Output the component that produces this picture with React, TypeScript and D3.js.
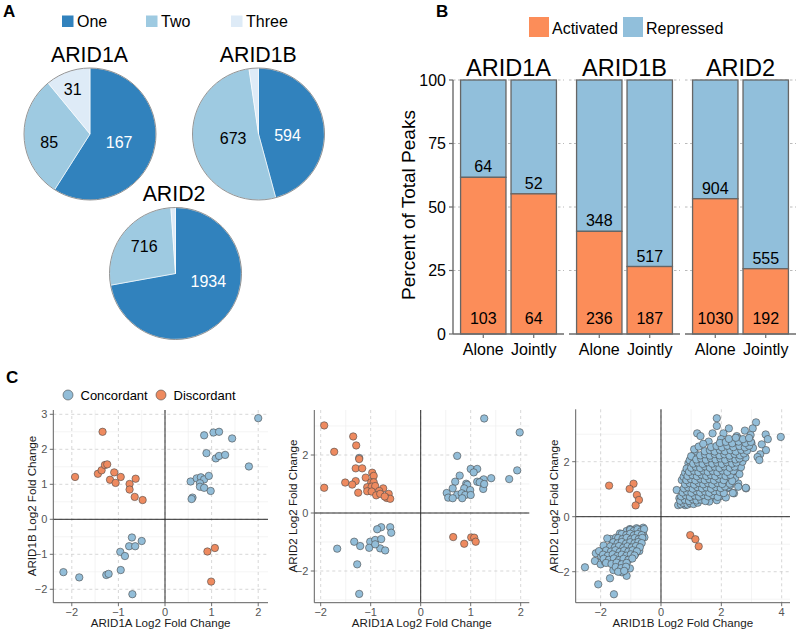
import React from 'react';
import * as d3 from 'd3';

const FONT = '"Liberation Sans", Arial, Helvetica, sans-serif';

// ---------- Panel A data ----------
const pieGroups = ['ARID1A', 'ARID1B', 'ARID2'];
const pieCategories = ['One', 'Two', 'Three'];
const pieARID1A = [167, 85, 31];
const pieARID1B = [594, 673, 30];
const pieARID2 = [1934, 716, 30];
const pieValues = [pieARID1A, pieARID1B, pieARID2];
const pieColors = ['#3182BD', '#9ECAE1', '#DEEBF7'];

// ---------- Panel B data ----------
const barFacets = ['ARID1A', 'ARID1B', 'ARID2'];
const barConditions = ['Alone', 'Jointly'];
const activatedCounts = [[103, 64], [236, 187], [1030, 192]];
const repressedCounts = [[64, 52], [348, 517], [904, 555]];
const barTicks = [0, 25, 50, 75, 100];
const activatedColor = '#FC8D59';
const repressedColor = '#91BFDB';

// ---------- Panel C data ----------
const s1Concordant = [
  [2.0, 2.89], [0.84, 2.4], [1.04, 2.48], [1.16, 2.5], [1.44, 2.31], [0.89, 1.89], [1.09, 1.74], [1.16, 1.81],
  [1.29, 1.84], [1.8, 1.51], [0.55, 1.08], [0.68, 1.17], [0.77, 1.2], [0.84, 1.14], [0.94, 1.24], [0.75, 1.03],
  [0.75, 0.93], [0.84, 0.9], [0.98, 0.81], [0.59, 0.62], [0.57, 0.58],
  [-0.71, -0.52], [-0.5, -0.62], [-0.77, -0.77], [-0.64, -0.77], [-0.96, -0.93], [-0.86, -1.05], [-0.95, -1.45],
  [-2.18, -1.51], [-1.84, -1.66], [-1.26, -1.59], [-1.21, -1.56], [-0.7, -2.14],
];
const s1Discordant = [
  [-1.34, 2.5], [-1.93, 1.21], [-1.44, 1.3], [-1.36, 1.4], [-1.29, 1.55], [-1.24, 1.57], [-1.09, 1.34],
  [-1.18, 1.13], [-1.06, 1.04], [-0.95, 1.21], [-0.63, 1.16], [-0.76, 1.01], [-0.76, 0.85], [-0.65, 0.64],
  [-0.48, 0.55], [1.07, -0.82], [0.91, -0.92], [0.99, -1.78],
];
const s2Concordant = [
  [1.27, 3.26], [1.98, 2.78], [0.73, 1.97], [1.93, 1.47], [1.77, 1.17], [1.41, 1.2], [0.78, 1.29], [1.0, 1.52],
  [1.13, 1.52], [1.06, 1.4], [0.69, 1.08], [0.91, 1.01], [0.93, 0.97], [1.13, 1.08], [1.23, 1.11], [1.26, 1.16],
  [1.18, 1.06], [0.64, 0.85], [0.87, 0.85], [0.99, 0.79], [1.25, 0.83], [1.27, 1.0], [0.52, 0.69], [0.73, 0.63],
  [0.82, 0.68], [0.89, 0.62], [0.55, 0.53], [0.64, 0.51], [0.83, 0.51], [1.0, 0.62], [-1.23, 1.9],
  [-0.61, -0.49], [-0.59, -0.68], [-0.79, -0.49], [-0.87, -0.56], [-1.01, -0.99], [-0.91, -0.93], [-0.79, -0.9],
  [-1.33, -0.99], [-1.21, -1.14], [-1.03, -1.2], [-0.81, -1.22], [-0.71, -1.29], [-1.67, -1.23], [-1.27, -1.77],
  [-1.23, -2.79], [-0.91, -1.08],
];
const s2Discordant = [
  [-1.93, 3.02], [-1.35, 2.64], [-1.29, 2.33], [-1.73, 2.11], [-1.23, 1.86], [-1.3, 1.54], [-1.17, 1.54],
  [-0.97, 1.39], [-0.94, 1.28], [-1.1, 1.22], [-1.51, 1.05], [-1.3, 1.1], [-1.37, 0.98], [-0.99, 1.06],
  [-0.94, 1.06], [-1.07, 0.89], [-0.98, 0.91], [-0.91, 0.93], [-0.75, 0.85], [-1.07, 0.75], [-0.98, 0.74],
  [-0.83, 0.76], [-1.93, 0.87], [-1.25, 0.7], [-0.89, 0.61], [-0.81, 0.66], [-0.64, 0.66], [-0.68, 0.52],
  [-0.61, 0.49], [-0.72, 0.57], [0.65, -0.83], [0.87, -1.06], [1.01, -0.84], [1.07, -0.85], [1.1, -0.99],
];
const s3Concordant = [
  // upper-right cluster, sparse edge
  [1.85, 3.58], [1.85, 3.3], [2.25, 3.21], [3.15, 3.43], [3.04, 3.21], [2.78, 3.13], [1.2, 3.03], [1.31, 2.93],
  [1.71, 3.03], [2.07, 3.03], [2.51, 2.93], [2.56, 2.85], [2.97, 2.97], [3.47, 2.99], [3.97, 2.9], [3.54, 2.82],
  [3.34, 2.63], [2.9, 2.79], [2.71, 2.7], [3.48, 2.42], [3.29, 2.27], [3.2, 2.17], [3.26, 2.06], [3.0, 2.67],
  [1.58, 2.73], [1.99, 2.82], [2.07, 2.67], [2.23, 2.55], [2.51, 2.51], [2.38, 2.39], [2.65, 2.24], [1.13, 2.3],
  [1.13, 2.12], [0.91, 1.94], [0.96, 1.82], [2.52, 1.64], [2.24, 1.37], [2.56, 1.21], [2.82, 1.03], [2.42, 0.85],
  [2.18, 1.03], [1.96, 0.75], [0.69, 1.33], [0.52, 0.97], [0.61, 0.67], [0.57, 0.42], [0.8, 0.42], [1.02, 0.55],
  [2.38, 0.86], [2.81, 1.05], [2.56, 1.09], [2.23, 1.07], [1.95, 0.75], [1.68, 0.7],
  [2.3, 1.15], [2.45, 1.4], [2.6, 1.55], [2.65, 1.8], [2.7, 2.0], [2.8, 2.15], [0.75, 1.45], [0.8, 1.6],
  [0.85, 1.75], [0.95, 2.05], [1.0, 2.2], [1.1, 2.45], [1.25, 2.55], [1.4, 2.65], [2.85, 2.55], [3.05, 2.5],
  [1.6, 0.55], [1.85, 0.6], [2.15, 0.7],
  // upper-right cluster, dense core
  [0.66, 0.45], [0.74, 0.5], [0.88, 0.44], [0.97, 0.49], [1.08, 0.46], [1.22, 0.51],
  [0.64, 0.58], [0.79, 0.62], [0.93, 0.57], [1.06, 0.63], [1.18, 0.59], [1.33, 0.62], [1.47, 0.57],
  [0.67, 0.74], [0.82, 0.78], [0.96, 0.72], [1.12, 0.77], [1.26, 0.73], [1.4, 0.79], [1.56, 0.74], [1.72, 0.79], [1.88, 0.72],
  [0.72, 0.88], [0.86, 0.92], [1.01, 0.87], [1.17, 0.93], [1.3, 0.88], [1.46, 0.92], [1.6, 0.87], [1.77, 0.93], [1.95, 0.9], [2.08, 0.86],
  [0.76, 1.03], [0.9, 1.07], [1.05, 1.02], [1.2, 1.08], [1.36, 1.03], [1.5, 1.07], [1.66, 1.02], [1.82, 1.08], [1.98, 1.04], [2.12, 1.1],
  [0.8, 1.18], [0.95, 1.22], [1.1, 1.17], [1.25, 1.23], [1.4, 1.18], [1.56, 1.22], [1.7, 1.17], [1.87, 1.23], [2.03, 1.19], [2.28, 1.2],
  [0.84, 1.33], [0.99, 1.37], [1.14, 1.32], [1.3, 1.38], [1.45, 1.33], [1.6, 1.37], [1.76, 1.32], [1.92, 1.38], [2.08, 1.33], [2.36, 1.3],
  [0.88, 1.48], [1.04, 1.52], [1.19, 1.47], [1.34, 1.53], [1.5, 1.48], [1.65, 1.52], [1.8, 1.47], [1.97, 1.53], [2.14, 1.48], [2.3, 1.52],
  [0.93, 1.63], [1.09, 1.67], [1.24, 1.62], [1.4, 1.68], [1.55, 1.63], [1.71, 1.67], [1.87, 1.62], [2.03, 1.68], [2.2, 1.63], [2.4, 1.67],
  [1.0, 1.78], [1.15, 1.82], [1.3, 1.77], [1.46, 1.83], [1.62, 1.78], [1.78, 1.82], [1.94, 1.77], [2.1, 1.83], [2.28, 1.78], [2.44, 1.82],
  [1.07, 1.93], [1.22, 1.97], [1.38, 1.92], [1.54, 1.98], [1.7, 1.93], [1.86, 1.97], [2.02, 1.92], [2.18, 1.98], [2.36, 1.93], [2.5, 1.97],
  [1.17, 2.08], [1.33, 2.12], [1.49, 2.07], [1.65, 2.13], [1.81, 2.08], [1.97, 2.12], [2.13, 2.07], [2.3, 2.13], [2.47, 2.08], [2.6, 2.12],
  [1.3, 2.23], [1.46, 2.27], [1.62, 2.22], [1.78, 2.28], [1.94, 2.23], [2.1, 2.27], [2.27, 2.22], [2.44, 2.28], [2.62, 2.23], [2.75, 2.3],
  [1.45, 2.38], [1.62, 2.42], [1.78, 2.37], [1.95, 2.43], [2.12, 2.38], [2.3, 2.42], [2.48, 2.37], [2.66, 2.43], [2.85, 2.4],
  [1.66, 2.53], [1.84, 2.57], [2.02, 2.52], [2.2, 2.58], [2.4, 2.53], [2.6, 2.57], [2.78, 2.52], [2.92, 2.58],
  [1.95, 2.68], [2.15, 2.72], [2.36, 2.67], [2.57, 2.73], [2.8, 2.68], [2.98, 2.72],
  [2.25, 2.83], [2.48, 2.87], [2.72, 2.82], [2.92, 2.86],
  // lower-left cluster, sparse edge
  [-2.52, -1.84], [-2.19, -1.61], [-2.08, -2.46], [-1.56, -2.82], [-1.69, -2.24], [-1.14, -2.15], [-1.3, -2.02],
  [-1.58, -1.94], [-1.03, -1.88], [-1.97, -1.45], [-2.16, -1.33], [-1.67, -0.81], [-1.49, -0.76], [-0.59, -0.4],
  [-0.7, -0.48], [-1.14, -0.52],
  [-1.78, -0.79], [-1.73, -1.13], [-1.55, -1.03], [-1.36, -0.61], [-1.03, -0.45], [-0.81, -0.42], [-1.98, -1.45],
  [-2.0, -1.73], [-1.86, -1.64], [-2.05, -1.25], [-1.9, -1.05], [-0.72, -1.25], [-0.85, -1.35], [-0.6, -0.6],
  [-0.55, -0.75],
  // lower-left cluster, dense core
  [-1.02, -0.48], [-0.9, -0.52], [-0.78, -0.46], [-0.66, -0.53], [-0.56, -0.45],
  [-1.3, -0.63], [-1.15, -0.67], [-1.02, -0.62], [-0.9, -0.68], [-0.77, -0.63], [-0.64, -0.67],
  [-1.42, -0.78], [-1.28, -0.82], [-1.14, -0.77], [-1.0, -0.83], [-0.87, -0.78], [-0.74, -0.82], [-0.62, -0.77],
  [-1.58, -0.93], [-1.44, -0.97], [-1.3, -0.92], [-1.16, -0.98], [-1.02, -0.93], [-0.88, -0.97], [-0.75, -0.92], [-0.64, -0.96],
  [-1.68, -1.08], [-1.53, -1.12], [-1.39, -1.07], [-1.25, -1.13], [-1.11, -1.08], [-0.97, -1.12], [-0.83, -1.07], [-0.7, -1.11],
  [-1.82, -1.23], [-1.66, -1.27], [-1.51, -1.22], [-1.37, -1.28], [-1.22, -1.23], [-1.08, -1.27], [-0.94, -1.22], [-0.8, -1.26],
  [-1.92, -1.38], [-1.76, -1.42], [-1.6, -1.37], [-1.45, -1.43], [-1.3, -1.38], [-1.15, -1.42], [-1.0, -1.37], [-0.88, -1.41],
  [-1.9, -1.53], [-1.73, -1.57], [-1.56, -1.52], [-1.4, -1.58], [-1.24, -1.53], [-1.08, -1.57], [-0.95, -1.52],
  [-1.82, -1.68], [-1.64, -1.72], [-1.47, -1.67], [-1.3, -1.73], [-1.14, -1.68],
  [-1.5, -1.83], [-1.32, -1.87], [-1.16, -1.82],
  [-1.42, -2.0], [-1.22, -1.97],
];
const s3Discordant = [
  [-1.72, 1.13], [-0.91, 1.2], [-1.04, 1.01], [-0.8, 0.79], [-0.73, 0.61], [-0.84, 0.41],
  [0.97, -0.67], [1.14, -0.82], [1.25, -1.08],
];
const scatterLegend = ['Concordant', 'Discordant'];
const concordantColor = '#92BDD8';
const discordantColor = '#EE8A5F';

// ---------- layout ----------
const PIE_R = 66;
const pieLayout = [
  { cx: 90, cy: 134, tx: 89.5, ty: 61.5, labels: [[106.6, 0.46], [259.2, 0.63], [339, 0.73]] },
  { cx: 258.5, cy: 134, tx: 258.3, ty: 61.5, labels: [[92, 0.44], [260.3, 0.39], null] },
  { cx: 175.5, cy: 273.5, tx: 174, ty: 201, labels: [[102.7, 0.51], [311.1, 0.63], null] },
];

function PanelA() {
  const pie = d3.pie<number>().sort(null).value((d) => d);
  const arc = d3.arc<d3.PieArcDatum<number>>().innerRadius(0).outerRadius(PIE_R);
  const legendX = [62, 146, 231];
  return (
    <g>
      <text x={3} y={17} fontSize={17} fontWeight="bold">A</text>
      {pieCategories.map((c, i) => (
        <g key={c}>
          <rect x={legendX[i]} y={15.5} width={11.5} height={11.5} fill={pieColors[i]} />
          <text x={legendX[i] + 15} y={27} fontSize={16}>{c}</text>
        </g>
      ))}
      {pieGroups.map((g, gi) => {
        const L = pieLayout[gi];
        const vals = pieValues[gi];
        const arcs = pie(vals);
        return (
          <g key={g}>
            <text x={L.tx} y={L.ty} fontSize={21.3} textAnchor="middle">{g}</text>
            <g transform={`translate(${L.cx},${L.cy})`}>
              {arcs.map((a, i) => (
                <path key={i} d={arc(a) || ''} fill={pieColors[i]} stroke="#ffffff" strokeWidth={0.6} />
              ))}
              <circle r={PIE_R} fill="none" stroke="#8a8a8a" strokeWidth={0.9} />
              {arcs.map((a, i) => {
                const lp = L.labels[i];
                if (!lp) return null;
                const th = (lp[0] * Math.PI) / 180;
                const x = Math.sin(th) * PIE_R * lp[1];
                const y = -Math.cos(th) * PIE_R * lp[1];
                return (
                  <text key={'l' + i} x={x} y={y} dy="0.36em" textAnchor="middle" fontSize={16}
                    fill={i === 0 ? '#ffffff' : '#000000'}>{vals[i]}</text>
                );
              })}
            </g>
          </g>
        );
      })}
    </g>
  );
}

function PanelB() {
  const facet = d3.scaleBand<string>().domain(barFacets).range([453, 796]).paddingInner(5 / 116);
  const bw = facet.bandwidth();
  const cond = d3.scaleBand<string>().domain(barConditions).range([0, bw]).paddingInner(0.1).paddingOuter(0.15);
  const y = d3.scaleLinear().domain([0, 100]).range([334, 80]);
  const axisColor = '#6b6b6b';
  return (
    <g>
      <text x={436} y={17} fontSize={17} fontWeight="bold">B</text>
      <rect x={529} y={17} width={20} height={20} fill={activatedColor} />
      <text x={552} y={34} fontSize={16}>Activated</text>
      <rect x={623} y={17} width={20} height={20} fill={repressedColor} />
      <text x={646} y={34} fontSize={16}>Repressed</text>
      <text transform={`translate(415,205) rotate(-90)`} textAnchor="middle" fontSize={19}>Percent of Total Peaks</text>
      {barFacets.map((f, fi) => {
        const fx = facet(f) as number;
        return (
          <g key={f}>
            <text x={fx + bw / 2} y={76} textAnchor="middle" fontSize={23.5}>{f}</text>
            {barTicks.slice(1).map((t) => (
              <line key={t} x1={fx} x2={fx + bw} y1={y(t)} y2={y(t)} stroke="#a8a8a8" strokeWidth={0.8} strokeDasharray="2.5,2.5" />
            ))}
            {barConditions.map((c, ci) => {
              const a = activatedCounts[fi][ci];
              const r = repressedCounts[fi][ci];
              const pct = (a / (a + r)) * 100;
              const bx = fx + (cond(c) as number);
              const bwid = cond.bandwidth();
              return (
                <g key={c}>
                  <rect x={bx} y={y(100)} width={bwid} height={y(pct) - y(100)} fill={repressedColor} stroke="#666" strokeWidth={1.3} />
                  <rect x={bx} y={y(pct)} width={bwid} height={y(0) - y(pct)} fill={activatedColor} stroke="#666" strokeWidth={1.3} />
                  <text x={bx + bwid / 2} y={y(pct) - 5} textAnchor="middle" fontSize={16}>{r}</text>
                  <text x={bx + bwid / 2} y={y(0) - 10} textAnchor="middle" fontSize={16}>{a}</text>
                  <line x1={bx + bwid / 2} x2={bx + bwid / 2} y1={y(0)} y2={y(0) + 4} stroke={axisColor} strokeWidth={1.2} />
                  <text x={bx + bwid / 2} y={355} textAnchor="middle" fontSize={16}>{c}</text>
                </g>
              );
            })}
            <line x1={fx} x2={fx + bw} y1={y(0)} y2={y(0)} stroke={axisColor} strokeWidth={1.4} />
          </g>
        );
      })}
      <line x1={453} x2={453} y1={y(100)} y2={y(0)} stroke={axisColor} strokeWidth={1.4} />
      {barTicks.map((t) => (
        <g key={t}>
          <line x1={449} x2={453} y1={y(t)} y2={y(t)} stroke={axisColor} strokeWidth={1.2} />
          <text x={446} y={y(t)} dy="0.36em" textAnchor="end" fontSize={16}>{t}</text>
        </g>
      ))}
    </g>
  );
}

type ScatterCfg = {
  x: d3.ScaleLinear<number, number>;
  y: d3.ScaleLinear<number, number>;
  xTicks: number[]; yTicks: number[]; xMinor: number[]; yMinor: number[];
  xLabel: string; yLabel: string; yLabelX: number;
  conc: number[][]; disc: number[][];
};

const scatterPanels: ScatterCfg[] = [
  {
    x: d3.scaleLinear().domain([-2.397, 2.21]).range([53.3, 268]),
    y: d3.scaleLinear().domain([-2.383, 3.123]).range([602.7, 410]),
    xTicks: [-2, -1, 0, 1, 2], yTicks: [-2, -1, 0, 1, 2, 3],
    xMinor: [-1.5, -0.5, 0.5, 1.5], yMinor: [-1.5, -0.5, 0.5, 1.5, 2.5],
    xLabel: 'ARID1A Log2 Fold Change', yLabel: 'ARID1B Log2 Fold Change', yLabelX: 35.5,
    conc: s1Concordant, disc: s1Discordant,
  },
  {
    x: d3.scaleLinear().domain([-2.128, 2.172]).range([314.3, 529.3]),
    y: d3.scaleLinear().domain([-3.093, 3.552]).range([602.7, 410]),
    xTicks: [-2, -1, 0, 1, 2], yTicks: [-2, 0, 2],
    xMinor: [-1.5, -0.5, 0.5, 1.5], yMinor: [-3, -1, 1, 3],
    xLabel: 'ARID1A Log2 Fold Change', yLabel: 'ARID2 Log2 Fold Change', yLabelX: 296.5,
    conc: s2Concordant, disc: s2Discordant,
  },
  {
    x: d3.scaleLinear().domain([-2.827, 4.276]).range([575.7, 790]),
    y: d3.scaleLinear().domain([-3.127, 3.905]).range([602.7, 409.3]),
    xTicks: [-2, 0, 2, 4], yTicks: [-2, 0, 2],
    xMinor: [-1, 1, 3], yMinor: [-3, -1, 1, 3],
    xLabel: 'ARID1B Log2 Fold Change', yLabel: 'ARID2 Log2 Fold Change', yLabelX: 558,
    conc: s3Concordant, disc: s3Discordant,
  },
];

function Scatter({ cfg }: { cfg: ScatterCfg }) {
  const { x, y } = cfg;
  const [x0, x1] = x.range();
  const [y0, y1] = y.range(); // y0 bottom, y1 top
  const fmt = d3.format('d');
  const axisColor = '#5f5f5f';
  const pointStroke = '#4a4a4a';
  return (
    <g>
      {cfg.xMinor.map((v) => (
        <line key={'xm' + v} x1={x(v)} x2={x(v)} y1={y1} y2={y0} stroke="#efefef" strokeWidth={0.7} />
      ))}
      {cfg.yMinor.map((v) => (
        <line key={'ym' + v} x1={x0} x2={x1} y1={y(v)} y2={y(v)} stroke="#efefef" strokeWidth={0.7} />
      ))}
      {cfg.xTicks.map((v) => (
        <line key={'xg' + v} x1={x(v)} x2={x(v)} y1={y1} y2={y0} stroke="#cdcdcd" strokeWidth={0.8} strokeDasharray="3,3" />
      ))}
      {cfg.yTicks.map((v) => (
        <line key={'yg' + v} x1={x0} x2={x1} y1={y(v)} y2={y(v)} stroke="#cdcdcd" strokeWidth={0.8} strokeDasharray="3,3" />
      ))}
      <line x1={x(0)} x2={x(0)} y1={y1} y2={y0} stroke="#2a2a2a" strokeWidth={1} />
      <line x1={x0} x2={x1} y1={y(0)} y2={y(0)} stroke="#2a2a2a" strokeWidth={1} />
      <line x1={x0} x2={x0} y1={y1} y2={y0} stroke={axisColor} strokeWidth={1} />
      <line x1={x0} x2={x1} y1={y0} y2={y0} stroke={axisColor} strokeWidth={1} />
      {cfg.xTicks.map((v) => (
        <g key={'xt' + v}>
          <line x1={x(v)} x2={x(v)} y1={y0} y2={y0 + 3.5} stroke={axisColor} strokeWidth={0.9} />
          <text x={x(v)} y={615.5} textAnchor="middle" fontSize={11} fill="#555">{fmt(v)}</text>
        </g>
      ))}
      {cfg.yTicks.map((v) => (
        <g key={'yt' + v}>
          <line x1={x0 - 3.5} x2={x0} y1={y(v)} y2={y(v)} stroke={axisColor} strokeWidth={0.9} />
          <text x={x0 - 6} y={y(v)} dy="0.36em" textAnchor="end" fontSize={11} fill="#555">{fmt(v)}</text>
        </g>
      ))}
      {cfg.conc.map((p, i) => (
        <circle key={'c' + i} cx={x(p[0])} cy={y(p[1])} r={3.7} fill={concordantColor} stroke={pointStroke} strokeWidth={0.6} />
      ))}
      {cfg.disc.map((p, i) => (
        <circle key={'d' + i} cx={x(p[0])} cy={y(p[1])} r={3.7} fill={discordantColor} stroke={pointStroke} strokeWidth={0.6} />
      ))}
      <text x={(x0 + x1) / 2} y={627} textAnchor="middle" fontSize={11.6} fill="#1a1a1a">{cfg.xLabel}</text>
      <text transform={`translate(${cfg.yLabelX},506) rotate(-90)`} textAnchor="middle" fontSize={11.6} fill="#1a1a1a">{cfg.yLabel}</text>
    </g>
  );
}

function PanelC() {
  const legendCircleX = [68, 161];
  const legendColors = [concordantColor, discordantColor];
  return (
    <g>
      <text x={6} y={383} fontSize={17} fontWeight="bold">C</text>
      {scatterLegend.map((s, i) => (
        <g key={s}>
          <circle cx={legendCircleX[i]} cy={395} r={5} fill={legendColors[i]} stroke="#4a4a4a" strokeWidth={0.6} />
          <text x={legendCircleX[i] + 12.5} y={399.5} fontSize={13}>{s}</text>
        </g>
      ))}
      {scatterPanels.map((cfg, i) => (
        <Scatter key={i} cfg={cfg} />
      ))}
    </g>
  );
}

export default function App() {
  return (
    <svg width={799} height={632} viewBox="0 0 799 632"
      style={{ position: 'absolute', left: 0, top: 0, background: '#ffffff' }}
      fontFamily={FONT}>
      <rect x={0} y={0} width={799} height={632} fill="#ffffff" />
      <PanelA />
      <PanelB />
      <PanelC />
    </svg>
  );
}
